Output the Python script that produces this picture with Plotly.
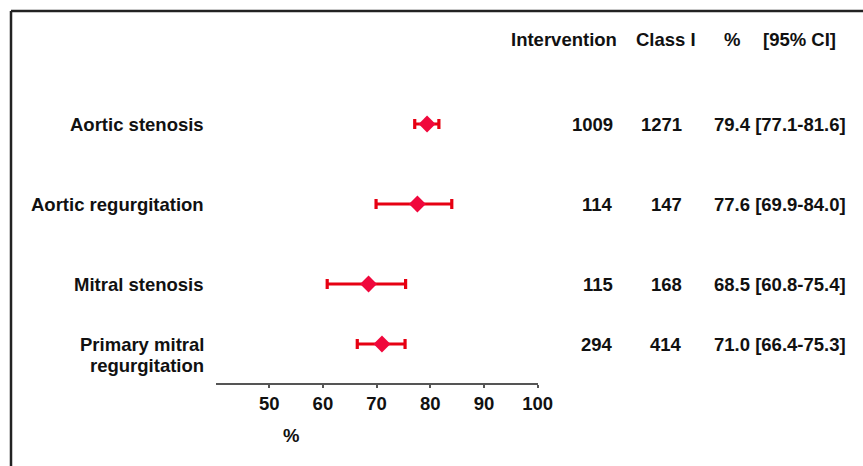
import plotly.graph_objects as go

# ---- data ----
conditions = ["Aortic stenosis", "Aortic regurgitation", "Mitral stenosis", "Primary mitral<br>regurgitation"]
intervention = [1009, 114, 115, 294]
class_i = [1271, 147, 168, 414]
pct = [79.4, 77.6, 68.5, 71.0]
ci_low = [77.1, 69.9, 60.8, 66.4]
ci_high = [81.6, 84.0, 75.4, 75.3]
headers = ["Intervention", "Class I", "%", "[95% CI]"]
tick_vals = [50, 60, 70, 80, 90, 100]

# ---- layout helpers ----
W, H = 863, 466
row_y = [1, 2, 3, 3.75]
FONT = "Liberation Sans, Arial, sans-serif"
FS = 18.5
TXT = "#111111"
LINE_GAP = 21
def px(x):
    return x / W

fig = go.Figure()
fig.add_trace(go.Scatter(
    x=pct, y=row_y, mode="markers",
    marker=dict(symbol="diamond", size=13, color="#f0083c", line=dict(width=0)),
    error_x=dict(type="data", symmetric=False,
                 array=[h - p for h, p in zip(ci_high, pct)],
                 arrayminus=[p - l for p, l in zip(pct, ci_low)],
                 color="#e60012", thickness=3.2, width=5),
    showlegend=False, hoverinfo="skip"))

ann = []
bold = dict(family=FONT, size=FS, color=TXT, weight="bold")
for i, name in enumerate(conditions):
    for k, part in enumerate(name.split("<br>")):
        ann.append(dict(x=px(206), y=row_y[i], xref="paper", yref="y", text=part,
                        xanchor="right", yanchor="middle", align="right", showarrow=False,
                        font=bold, yshift=-k * LINE_GAP))
    ann.append(dict(x=px(615), y=row_y[i], xref="paper", yref="y", text=str(intervention[i]),
                    xanchor="right", yanchor="middle", showarrow=False, font=bold))
    ann.append(dict(x=px(684), y=row_y[i], xref="paper", yref="y", text=str(class_i[i]),
                    xanchor="right", yanchor="middle", showarrow=False, font=bold))
    ann.append(dict(x=px(848), y=row_y[i], xref="paper", yref="y",
                    text=f"{pct[i]:.1f} [{ci_low[i]:.1f}-{ci_high[i]:.1f}]",
                    xanchor="right", yanchor="middle", showarrow=False, font=bold))
hdr_x = [563.5, 665.5, 731.5, 799]
for hx, h in zip(hdr_x, headers):
    ann.append(dict(x=px(hx), y=1 - 40 / H, xref="paper", yref="paper", text=h,
                    xanchor="center", yanchor="middle", showarrow=False, font=bold))
ann.append(dict(x=px(291), y=1 - 435 / H, xref="paper", yref="paper", text="%",
                xanchor="center", yanchor="middle", showarrow=False, font=bold))

shapes = [
    dict(type="line", xref="paper", yref="paper", x0=px(11), x1=1, y0=1 - 11 / H, y1=1 - 11 / H,
         line=dict(color="#222222", width=2.5)),
    dict(type="line", xref="paper", yref="paper", x0=px(11), x1=px(11), y0=0, y1=1 - 11 / H,
         line=dict(color="#222222", width=2.5)),
]

x0p, x1p = 215.5, 537.7
fig.update_layout(
    template="none",
    width=W, height=H, margin=dict(l=0, r=0, t=0, b=0, pad=0, autoexpand=False),
    paper_bgcolor="white", plot_bgcolor="white",
    xaxis=dict(range=[40, 100], domain=[px(x0p), px(x1p)], anchor="free", automargin=False,
               position=1 - 384 / H, showline=True, linecolor="#555555", linewidth=2,
               tickvals=tick_vals, ticks="outside", ticklen=3, tickwidth=1.5,
               tickcolor="#555555", showgrid=False, zeroline=False,
               tickfont=dict(family=FONT, size=FS, color=TXT, weight="bold"),
               ticklabelstandoff=0),
    yaxis=dict(range=[1 + (H - 124) / 80, 1 - 124 / 80], domain=[0, 1], visible=False,
               showgrid=False, zeroline=False, automargin=False),
    annotations=ann, shapes=shapes,
)

fig.write_html("out.html", config={"displayModeBar": False},
               post_script="document.body.style.margin='0';document.body.style.overflow='hidden';")
